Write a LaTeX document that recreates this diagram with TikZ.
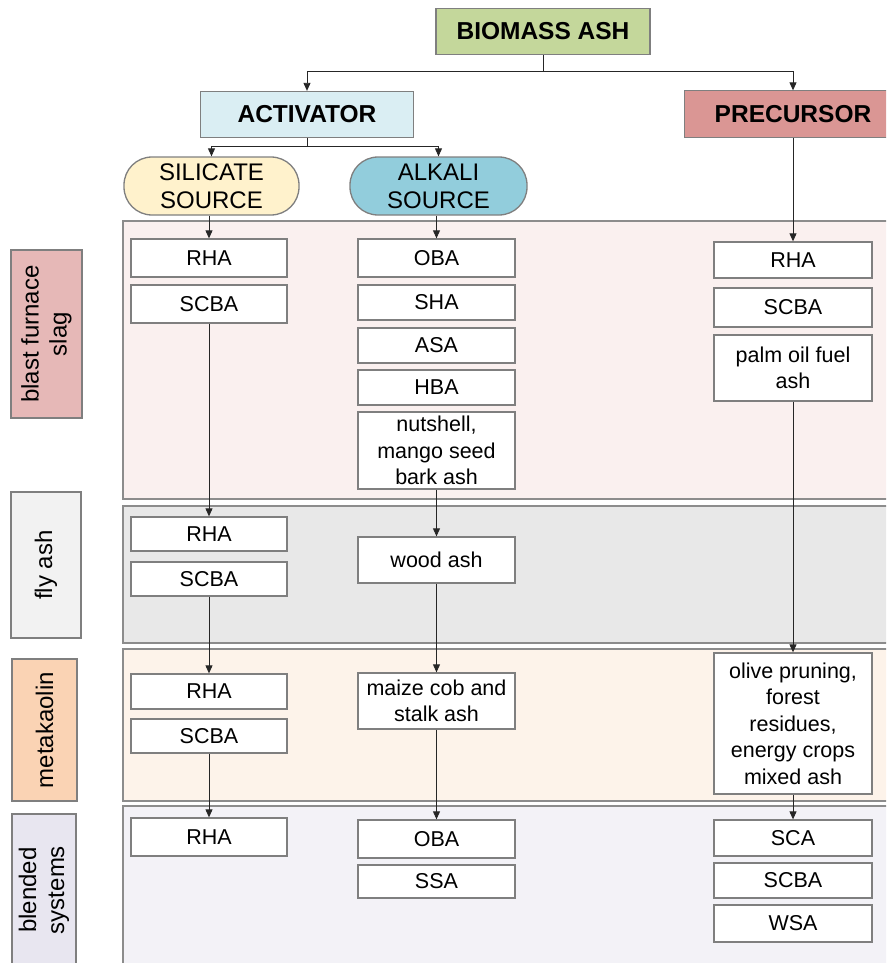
\documentclass[tikz,border=0pt]{standalone}
\usepackage{fontspec}
\setmainfont{Liberation Sans}
\usetikzlibrary{arrows.meta}
\definecolor{boxgray}{HTML}{7F7F7F}
\definecolor{bandline}{HTML}{8C8C8C}
\definecolor{biogreen}{HTML}{C4D79B}
\definecolor{actblue}{HTML}{DAEEF3}
\definecolor{prered}{HTML}{DA9694}
\definecolor{silyellow}{HTML}{FFF2CC}
\definecolor{alkblue}{HTML}{92CDDC}
\definecolor{bandA}{HTML}{FAF0EF}
\definecolor{bandB}{HTML}{E8E8E8}
\definecolor{bandC}{HTML}{FDF3EA}
\definecolor{bandD}{HTML}{F3F2F7}
\definecolor{labA}{HTML}{E6B8B7}
\definecolor{labB}{HTML}{F2F2F2}
\definecolor{labC}{HTML}{FAD3B4}
\definecolor{labD}{HTML}{E8E6F0}
\tikzset{
  itembox/.style={draw=boxgray, line width=1.3pt, fill=white, align=center,
    font=\fontsize{21.5}{26.5}\selectfont, inner sep=1pt, text=black},
  colA/.style={itembox, minimum width=156pt},
  colB/.style={itembox, minimum width=157pt},
  colC/.style={itembox, minimum width=158pt},
  titlebox/.style={draw=boxgray, line width=1.3pt, align=center,
    font=\bfseries\fontsize{24.5}{28}\selectfont, inner sep=1pt},
  pill/.style={draw=boxgray, line width=1.3pt, align=center, rounded corners=28pt,
    font=\fontsize{24}{28}\selectfont, inner sep=1pt, minimum height=58pt},
  bandline/.style={draw=bandline, line width=1.5pt},
  outline/.style={draw=boxgray, line width=1.3pt},
  sidelab/.style={draw=boxgray, line width=1.3pt, rotate=90, align=center,
    font=\fontsize{24}{28}\selectfont, inner sep=1pt},
  conn/.style={draw=black!85, line width=0.9pt},
  arr/.style={conn, -{Triangle[length=8pt,width=7pt]}}
}
\begin{document}
\begin{tikzpicture}[x=1pt,y=-1pt]
\useasboundingbox (0,0) rectangle (886,963);
\clip (0,0) rectangle (886,963);

% bands (open on the right, cut by the picture edge)
\fill[bandA] (123,221) rectangle (905,499);
\draw[bandline] (905,221) -- (123,221) -- (123,499) -- (905,499);
\fill[bandB] (123,506) rectangle (905,643);
\draw[bandline] (905,506) -- (123,506) -- (123,643) -- (905,643);
\fill[bandC] (123,649) rectangle (905,801);
\draw[bandline] (905,649) -- (123,649) -- (123,801) -- (905,801);
\fill[bandD] (123,806) rectangle (905,985);
\draw[bandline] (905,806) -- (123,806) -- (123,985);

% side labels
\node[sidelab, fill=labA, minimum width=168pt, minimum height=71pt] (lA) at (46.5,334) {blast furnace\\slag};
\node[sidelab, fill=labB, minimum width=146pt, minimum height=70pt] (lB) at (46,565) {fly ash};
\node[sidelab, fill=labC, minimum width=142pt, minimum height=65pt] (lC) at (44.5,730) {metakaolin};
\node[sidelab, fill=labD, minimum width=170pt, minimum height=64pt] (lD) at (44,899) {};
\node[rotate=90, align=center, font=\fontsize{24}{28}\selectfont] (lDt) at (44,890) {blended\\systems};

% top hierarchy
\node[titlebox, fill=biogreen, minimum width=214pt, minimum height=46pt] (bio) at (543,31.5) {BIOMASS ASH};
\node[titlebox, fill=actblue, minimum width=213pt, minimum height=46pt] (act) at (307,114.5) {ACTIVATOR};
\node[titlebox, draw=none, fill=prered, minimum width=216pt, minimum height=46pt] (pre) at (793,114) {PRECURSOR};
\draw[outline] (pre.north east) -- (pre.north west) -- (pre.south west) -- (pre.south east);
\node[pill, fill=silyellow, minimum width=175pt] (sil) at (211.5,186) {SILICATE\\SOURCE};
\node[pill, fill=alkblue, minimum width=177pt] (alk) at (438.5,186) {ALKALI\\SOURCE};

\coordinate (j1) at (543,71);
\draw[conn] (bio.south) -- (j1);
\draw[arr] (j1) -| (act.north);
\draw[arr] (j1) -| (pre.north);
\coordinate (j2) at (307,146);
\draw[conn] (act.south) -- (j2);
\draw[arr] (j2) -| (sil.north);
\draw[arr] (j2) -| (alk.north);

% column 1
\node[colA, minimum height=38pt] (c1a) at (209,258) {RHA};
\node[colA, minimum height=38pt] (c1b) at (209,304) {SCBA};
\node[colA, minimum height=34pt] (c1c) at (209,534) {RHA};
\node[colA, minimum height=34pt] (c1d) at (209,579) {SCBA};
\node[colA, minimum height=35pt] (c1e) at (209,691.5) {RHA};
\node[colA, minimum height=34pt] (c1f) at (209,736) {SCBA};
\node[colA, minimum height=38pt] (c1g) at (209,837) {RHA};

% column 2
\node[colB, minimum height=38pt] (c2a) at (436.5,258) {OBA};
\node[colB, minimum height=35pt] (c2b) at (436.5,302.5) {SHA};
\node[colB, minimum height=35pt] (c2c) at (436.5,345.5) {ASA};
\node[colB, minimum height=35pt] (c2d) at (436.5,387.5) {HBA};
\node[colB, minimum height=77pt] (c2e) at (436.5,450.5) {nutshell,\\mango seed\\bark ash};
\node[colB, minimum height=46pt] (c2f) at (436.5,560) {wood ash};
\node[colB, minimum height=56pt] (c2g) at (436.5,701) {maize cob and\\stalk ash};
\node[colB, minimum height=38pt] (c2h) at (436.5,839) {OBA};
\node[colB, minimum height=33pt] (c2i) at (436.5,881.5) {SSA};

% column 3
\node[colC, minimum height=36pt] (c3a) at (793,260) {RHA};
\node[colC, minimum height=39pt] (c3b) at (793,307.5) {SCBA};
\node[colC, minimum height=66pt] (c3c) at (793,368) {palm oil fuel\\ash};
\node[colC, minimum height=141pt] (c3d) at (793,723.5) {olive pruning,\\forest\\residues,\\energy crops\\mixed ash};
\node[colC, minimum height=36pt] (c3e) at (793,838) {SCA};
\node[colC, minimum height=35pt] (c3f) at (793,880.5) {SCBA};
\node[colC, minimum height=37pt] (c3g) at (793,923.5) {WSA};

% connectors
\draw[arr] (sil.south -| c1a.north) -- (c1a.north);
\draw[arr] (c1b.south) -- (c1c.north);
\draw[arr] (c1d.south) -- (c1e.north);
\draw[arr] (c1f.south) -- (c1g.north);
\draw[arr] (alk.south -| c2a.north) -- (c2a.north);
\draw[arr] (c2e.south) -- (c2f.north);
\draw[arr] (c2f.south) -- (c2g.north);
\draw[arr] (c2g.south) -- (c2h.north);
\draw[arr] (pre.south) -- (c3a.north);
\draw[arr] (c3c.south) -- (c3d.north);
\draw[arr] (c3d.south) -- (c3e.north);
\end{tikzpicture}
\end{document}
